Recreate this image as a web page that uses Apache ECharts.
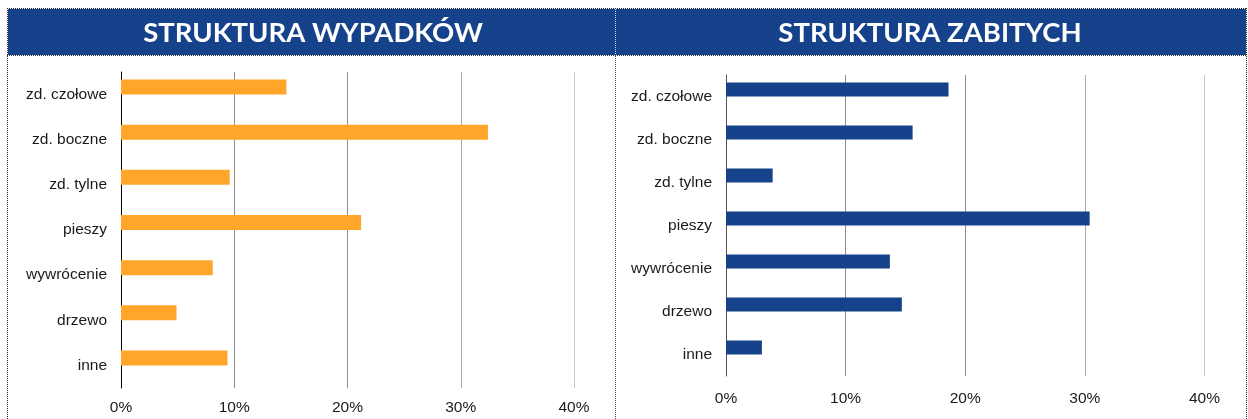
<!DOCTYPE html>
<html>
<head>
<meta charset="utf-8">
<script src="https://cdn.jsdelivr.net/npm/echarts@6/dist/echarts.min.js"></script>
<style>
  html, body { margin: 0; padding: 0; background: #fff; }
  #chart { width: 1248px; height: 419px; }
</style>
</head>
<body>
<div id="chart"></div>
<script>
// Crash types (Polish labels), shared by both panels
const categories = ['zd. czołowe', 'zd. boczne', 'zd. tylne', 'pieszy', 'wywrócenie', 'drzewo', 'inne'];
// Share of accidents by type, %
const accidentsShare = [14.6, 32.4, 9.6, 21.2, 8.1, 4.9, 9.4];
// Share of fatalities by type, %
const fatalitiesShare = [18.6, 15.6, 3.9, 30.4, 13.7, 14.7, 3.0];
// Panel headings
const titles = ['STRUKTURA WYPADKÓW', 'STRUKTURA ZABITYCH'];
// Value axis range / step, %
const axisMax = 40;
const axisStep = 10;

const ORANGE = '#FFA62A';
const NAVY = '#15428B';
const FONT = '"Liberation Sans", Arial, sans-serif';

const chart = echarts.init(document.getElementById('chart'), null, { renderer: 'canvas' });

function valueAxis(gridIndex, labelMargin) {
  return {
    type: 'value', gridIndex, min: 0, max: axisMax, interval: axisStep,
    axisLine: { show: false }, axisTick: { show: false },
    axisLabel: { formatter: '{value}%', color: '#1a1a1a', fontSize: 15.5, fontFamily: FONT, margin: labelMargin },
    splitLine: { lineStyle: { color: ['#8f8f8f', '#8f8f8f', '#8f8f8f', '#aaaaaa', '#c8c8c8'], width: 1 } }
  };
}
function categoryAxis(gridIndex, lineColor) {
  return {
    type: 'category', gridIndex, data: categories, inverse: true,
    axisLine: { show: true, lineStyle: { color: lineColor, width: 1 } },
    axisTick: { show: false },
    axisLabel: { color: '#1a1a1a', fontSize: 15.5, fontFamily: FONT, margin: 14 }
  };
}
// Each panel has a real series plus an empty companion, so bars sit in the upper half of each band
function barPair(axisIndex, values, color, width) {
  return [
    { type: 'bar', xAxisIndex: axisIndex, yAxisIndex: axisIndex, data: values,
      barWidth: width, barGap: '0%', itemStyle: { color }, silent: true },
    { type: 'bar', xAxisIndex: axisIndex, yAxisIndex: axisIndex, data: values.map(() => null),
      barWidth: width, barGap: '0%', silent: true }
  ];
}

const dotted = (x1, y1, x2, y2, stroke) => ({
  type: 'line', silent: true, z: 10,
  shape: { x1, y1, x2, y2 },
  style: { stroke, lineWidth: 1, lineDash: [1, 1] }
});

const headingFont = 'bold 27.5px Lato, "Open Sans", sans-serif';

chart.setOption({
  animation: false,
  grid: [
    { left: 121, top: 72, width: 453, height: 316 },
    { left: 726, top: 75, width: 478.5, height: 301 }
  ],
  xAxis: [valueAxis(0, 12), valueAxis(1, 15)],
  yAxis: [categoryAxis(0, '#000000'), categoryAxis(1, '#555555')],
  series: [
    ...barPair(0, accidentsShare, ORANGE, 15),
    ...barPair(1, fatalitiesShare, NAVY, 14)
  ],
  graphic: [
    { type: 'rect', silent: true, z: 5, shape: { x: 8, y: 9, width: 1238, height: 46 }, style: { fill: NAVY } },
    { type: 'text', silent: true, z: 11, x: 313, y: 33.5,
      style: { text: titles[0], fill: '#ffffff', font: headingFont, textAlign: 'center', textVerticalAlign: 'middle' } },
    { type: 'text', silent: true, z: 11, x: 930, y: 33.5,
      style: { text: titles[1], fill: '#ffffff', font: headingFont, textAlign: 'center', textVerticalAlign: 'middle' } },
    dotted(7, 8.5, 1247, 8.5, '#222'),
    dotted(7, 55.5, 1247, 55.5, '#333'),
    dotted(7.5, 8, 7.5, 419, '#222'),
    dotted(1246.5, 8, 1246.5, 419, '#222'),
    dotted(615.5, 9, 615.5, 55, '#d0d8e8'),
    dotted(615.5, 56, 615.5, 419, '#444')
  ]
});
</script>
</body>
</html>
